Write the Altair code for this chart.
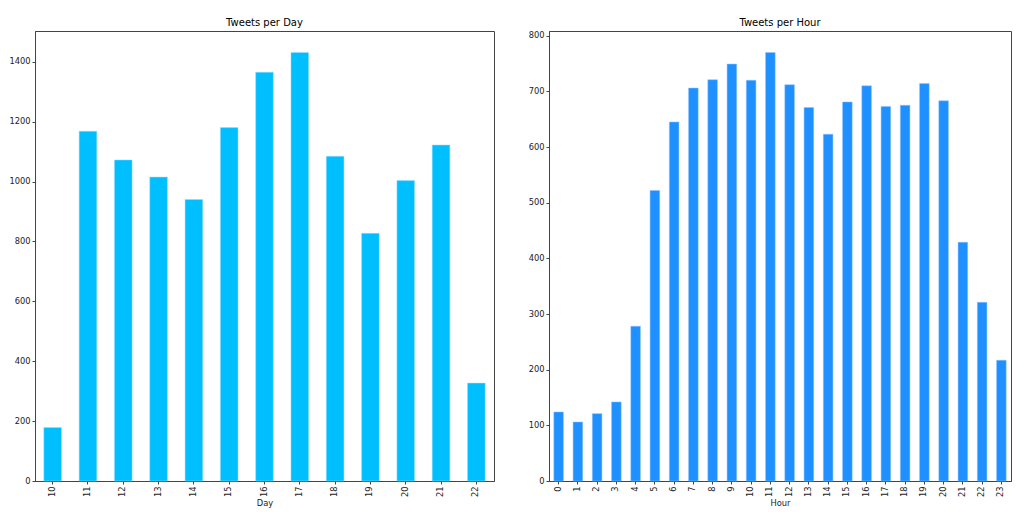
import altair as alt
import pandas as pd

days = ["10", "11", "12", "13", "14", "15", "16", "17", "18", "19", "20", "21", "22"]
day_counts = [179, 1168, 1072, 1015, 940, 1180, 1365, 1431, 1084, 827, 1003, 1122, 327]

hours = [str(h) for h in range(24)]
hour_counts = [124, 106, 121, 142, 278, 522, 645, 706, 721, 749, 720, 770,
               712, 671, 623, 681, 710, 673, 675, 714, 683, 429, 321, 217]

df_day = pd.DataFrame({"Day": days, "count": day_counts})
df_hour = pd.DataFrame({"Hour": hours, "count": hour_counts})

FONT = "DejaVu Sans"
LS = 8.3


def panel(df, field, order, color, edge, title, ymax, step, w):
    return alt.Chart(df, title=alt.Title(title, fontSize=10, fontWeight="normal", font=FONT,
                                           color="black", offset=3)).mark_bar(
        color=color, stroke=edge, strokeWidth=0.5
    ).encode(
        x=alt.X(f"{field}:N", sort=order,
                scale=alt.Scale(paddingInner=0.5, paddingOuter=0.25),
                axis=alt.Axis(title=field, labelAngle=-90, labelFontSize=LS, titleFontSize=LS,
                              titleFontWeight="normal", labelColor="#222", titleColor="#222",
                              tickSize=3, labelPadding=2, titlePadding=2, domainColor="#444",
                              tickColor="#444", labelBaseline="middle", labelAlign="right",
                              labelFont=FONT, titleFont=FONT)),
        y=alt.Y("count:Q", scale=alt.Scale(domain=[0, ymax], nice=False, zero=True),
                axis=alt.Axis(title=None, values=list(range(0, int(ymax) + 1, step)), grid=False,
                              format="d", labelFontSize=LS, labelColor="#222", tickSize=3,
                              labelPadding=2, domainColor="#444", tickColor="#444",
                              labelFont=FONT)),
    ).properties(width=w, height=450)


left = panel(df_day, "Day", days, "#00BFFF", "#9fdcff", "Tweets per Day", 1431 * 1.05, 200, 459)
right = panel(df_hour, "Hour", hours, "#1E90FF", "#8ec3ff", "Tweets per Hour", 770 * 1.05, 100, 462)

chart = alt.hconcat(left, right, spacing=32).configure_view(
    stroke="#444", strokeWidth=1
).properties(padding={"left": 0, "top": 9, "right": 0, "bottom": 0}, background="white")

chart.save("out.html", embed_options={"renderer": "svg", "actions": False})
